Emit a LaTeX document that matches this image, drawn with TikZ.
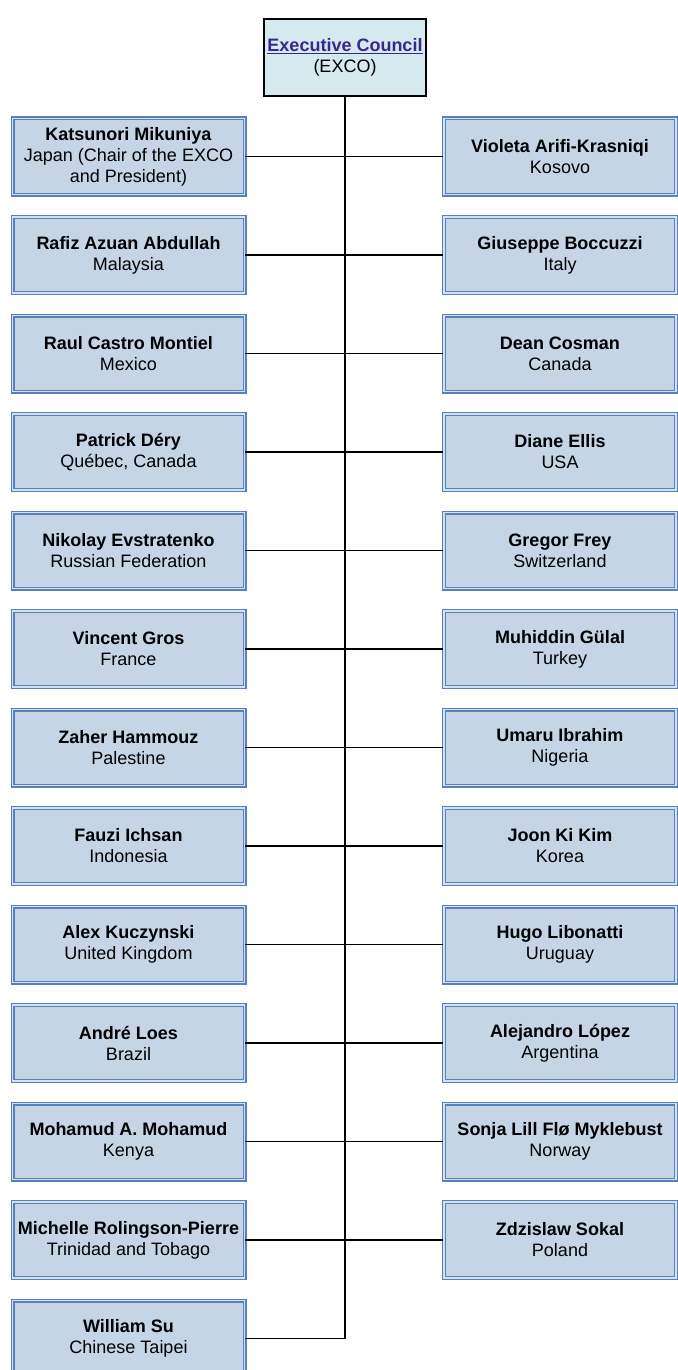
\documentclass[tikz,border=0pt]{standalone}
\usepackage{fontspec}
\setmainfont{Liberation Sans}
\usetikzlibrary{positioning}

\definecolor{boxfill}{RGB}{198,213,229}
\definecolor{boxline}{RGB}{88,128,186}
\definecolor{boxgap}{RGB}{214,225,240}
\definecolor{excofill}{RGB}{213,234,238}
\definecolor{excotext}{RGB}{58,38,140}

\tikzset{
  member/.style={draw=boxline, line width=1.1pt, double=boxgap, double distance=1.8pt,
    fill=boxfill, minimum width=232, minimum height=76, align=center,
    font=\fontsize{18}{21}\selectfont, inner sep=2pt},
  exco/.style={draw=black, line width=1.6pt, fill=excofill, minimum width=156,
    minimum height=77, align=center, font=\fontsize{18}{21}\selectfont},
  link/.style={draw=black, line width=1.4pt}
}

\begin{document}
\begin{tikzpicture}[x=1pt,y=-1pt]
\useasboundingbox (0,0) rectangle (677,1370);

\node[exco] (exco) at (345,57.5) {\textcolor{excotext}{\underline{\textbf{Executive Council}}}\\(EXCO)};

% left column
\foreach \who/\where [count=\i] in {
  {Katsunori Mikuniya}/{Japan (Chair of the EXCO\\and President)},
  {Rafiz Azuan Abdullah}/{Malaysia},
  {Raul Castro Montiel}/{Mexico},
  {Patrick Déry}/{Québec, Canada},
  {Nikolay Evstratenko}/{Russian Federation},
  {Vincent Gros}/{France},
  {Zaher Hammouz}/{Palestine},
  {Fauzi Ichsan}/{Indonesia},
  {Alex Kuczynski}/{United Kingdom},
  {André Loes}/{Brazil},
  {Mohamud A. Mohamud}/{Kenya},
  {Michelle Rolingson-Pierre}/{Trinidad and Tobago},
  {William Su}/{Chinese Taipei}} {
\node[member] (left\i) at (128.5,{156.5+(\i-1)*98.5}) {\textbf{\who}\\\where};
\draw[link] (left\i.east) -- (left\i.east -| exco.south);
}

% right column
\foreach \who/\where [count=\i] in {
  {Violeta Arifi-Krasniqi}/{Kosovo},
  {Giuseppe Boccuzzi}/{Italy},
  {Dean Cosman}/{Canada},
  {Diane Ellis}/{USA},
  {Gregor Frey}/{Switzerland},
  {Muhiddin Gülal}/{Turkey},
  {Umaru Ibrahim}/{Nigeria},
  {Joon Ki Kim}/{Korea},
  {Hugo Libonatti}/{Uruguay},
  {Alejandro López}/{Argentina},
  {Sonja Lill Flø Myklebust}/{Norway},
  {Zdzislaw Sokal}/{Poland}} {
\node[member] (right\i) at (560,{156.5+(\i-1)*98.5}) {\textbf{\who}\\\where};
\draw[link] (right\i.west) -- (right\i.west -| exco.south);
}

% trunk
\draw[link] (exco.south) -- (exco.south |- left13.east);
\end{tikzpicture}
\end{document}
